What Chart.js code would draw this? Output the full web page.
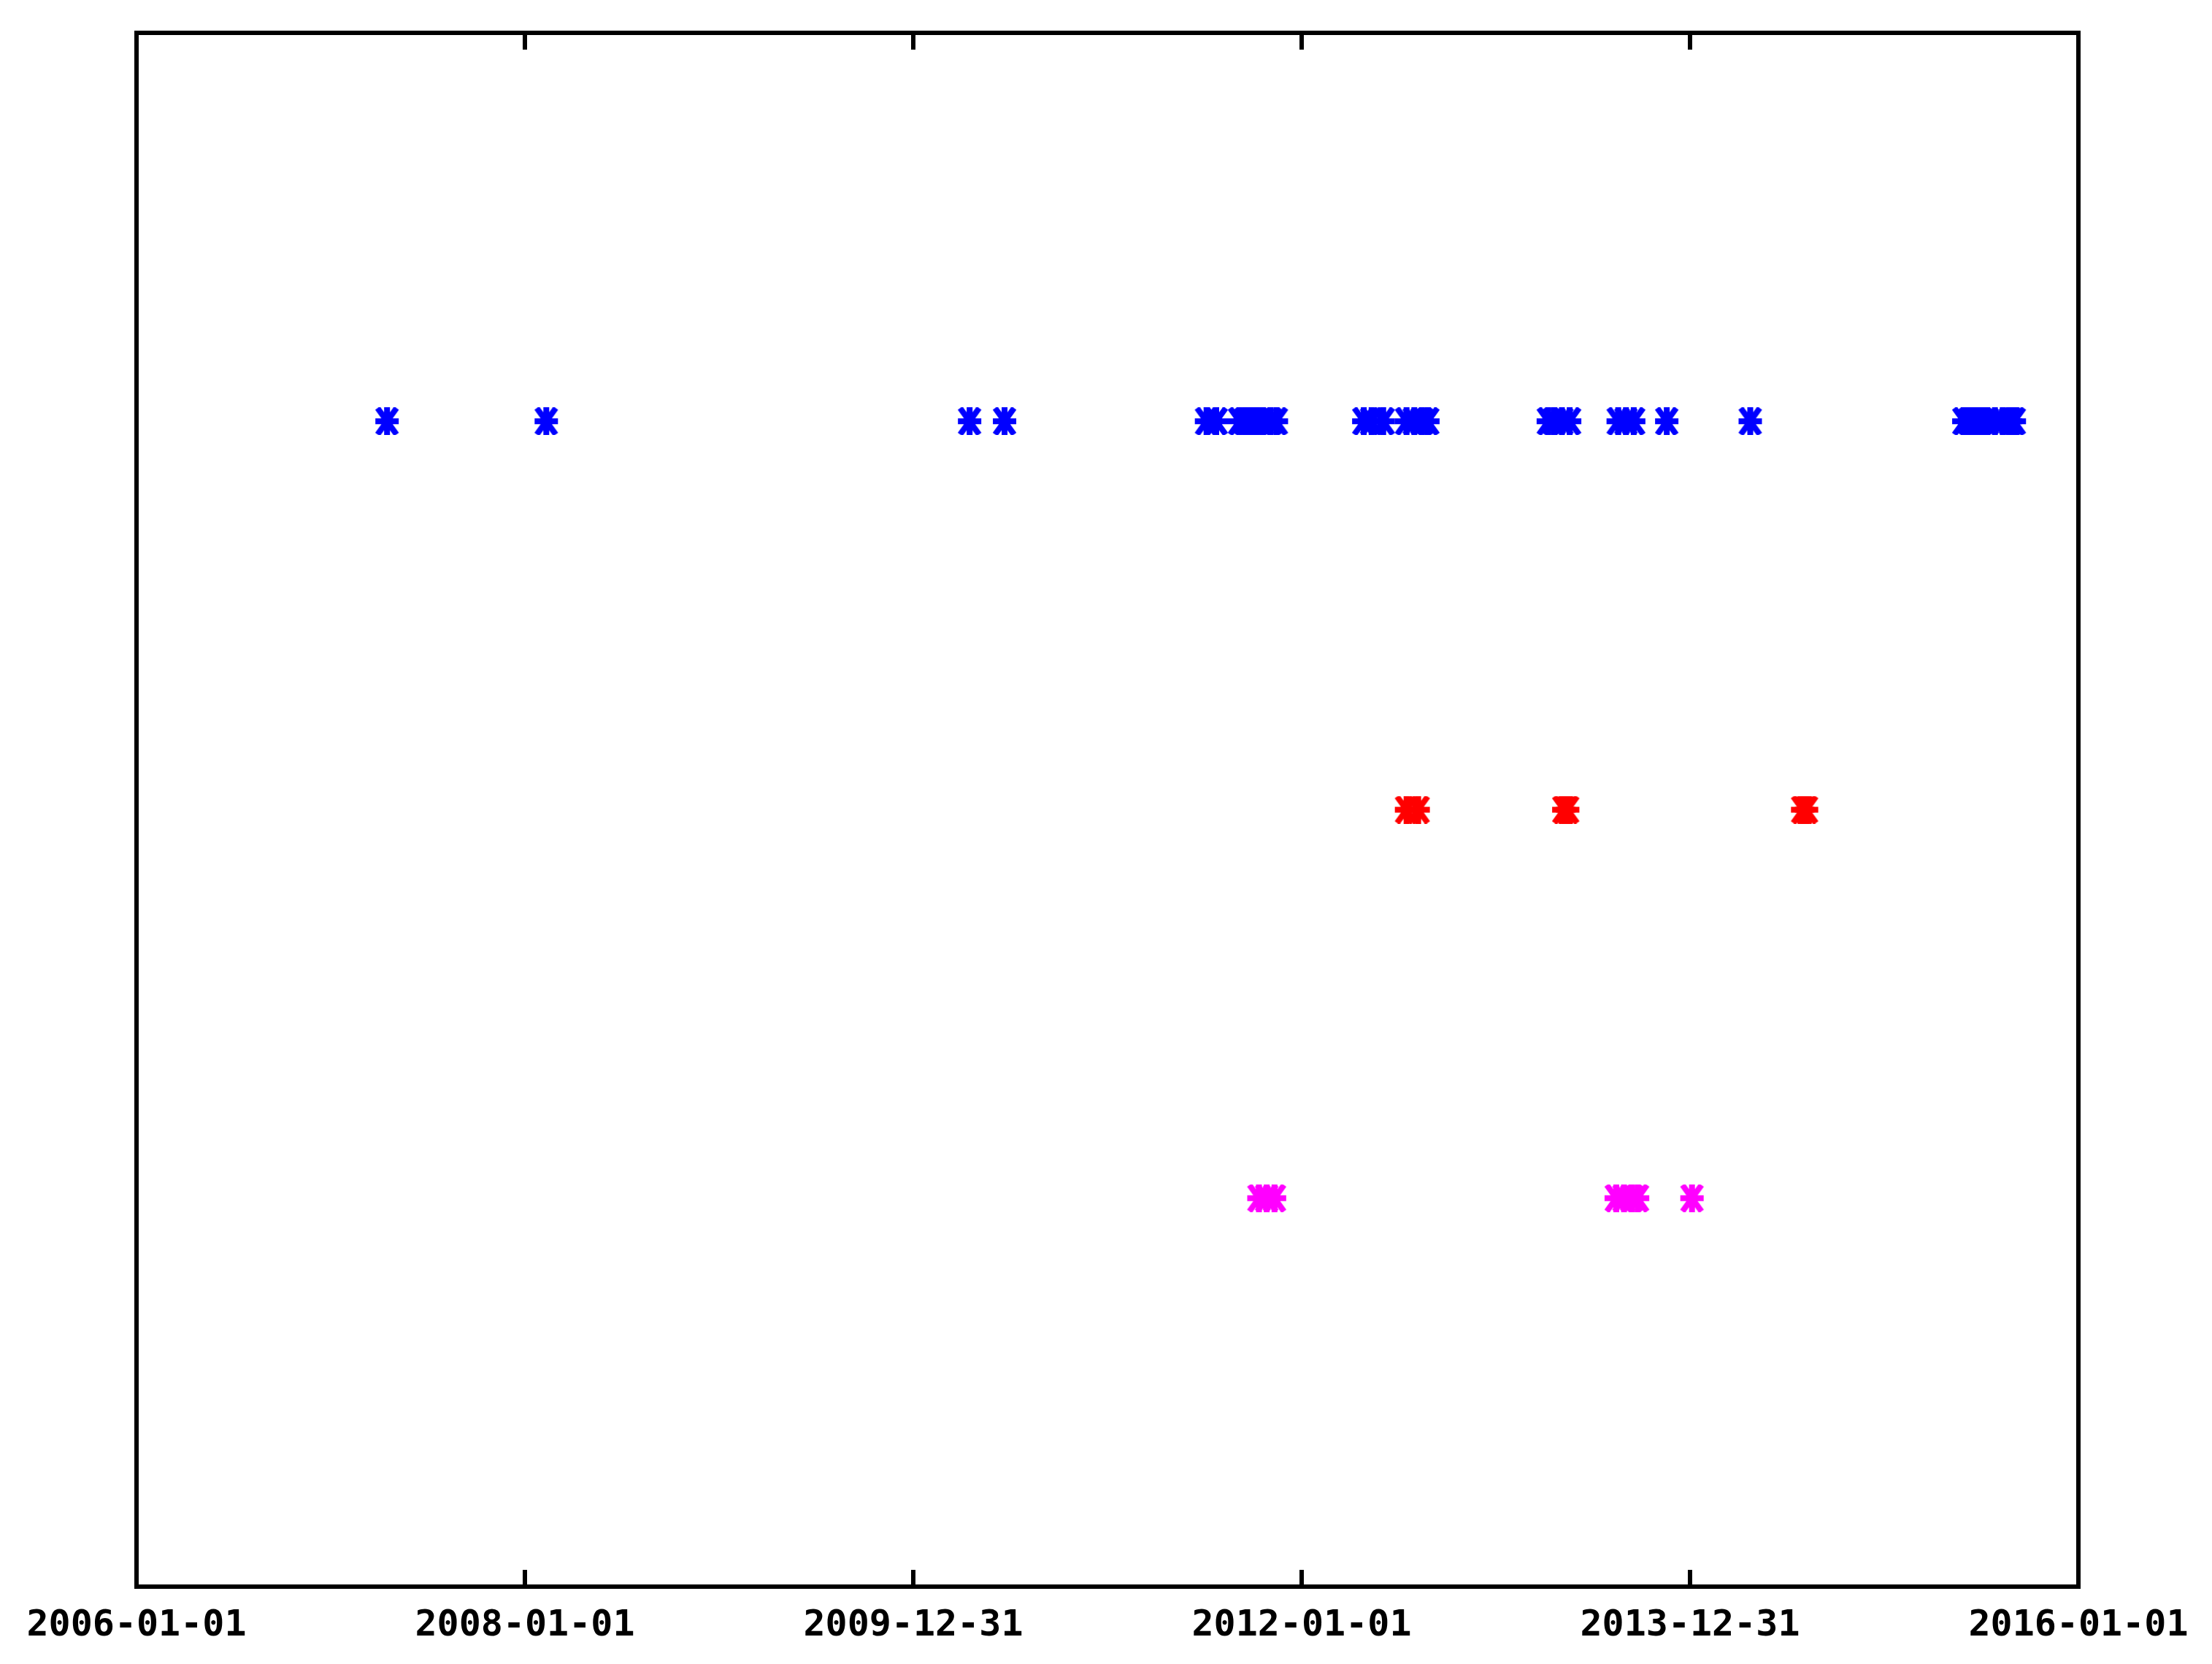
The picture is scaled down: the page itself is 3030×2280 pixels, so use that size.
<!DOCTYPE html>
<html>
<head>
<meta charset="utf-8">
<script src="https://cdn.jsdelivr.net/npm/chart.js@4/dist/chart.umd.min.js"></script>
<style>
  html, body { margin: 0; padding: 0; background: #fff; }
  canvas { display: block; }
</style>
</head>
<body>
<canvas id="chart" width="3030" height="2280"></canvas>
<script>
// 軸與刻度
const xMin = 2006, xMax = 2016, xStep = 2;
const tickLabels = ['2006-01-01', '2008-01-01', '2009-12-31', '2012-01-01', '2013-12-31', '2016-01-01'];

// 事件時間（年份小數），三列
const blueDates = [2007.29, 2008.11, 2010.29, 2010.47,
  2011.51, 2011.56, 2011.68, 2011.71, 2011.74, 2011.77, 2011.80, 2011.84, 2011.87,
  2012.32, 2012.36, 2012.42, 2012.54, 2012.58, 2012.62, 2012.65,
  2013.27, 2013.30, 2013.34, 2013.38, 2013.63, 2013.67, 2013.71, 2013.88, 2014.31,
  2015.41, 2015.44, 2015.47, 2015.50, 2015.53, 2015.57, 2015.61, 2015.65, 2015.67];
const redDates = [2012.54, 2012.60, 2013.35, 2013.37, 2014.58, 2014.60];
const magentaDates = [2011.78, 2011.82, 2011.86, 2013.62, 2013.66, 2013.70, 2013.73, 2014.01];
const rowLevels = [3, 2, 1];
const rowColors = ['#0000ff', '#ff0000', '#ff00ff'];

function toPoints(dates, level) {
  return dates.map(d => ({ x: d, y: level }));
}

// 星號標記（Ж 形），畫在小 canvas 上給 pointStyle 用
function makeMarker(color) {
  const c = document.createElement('canvas');
  c.width = 34;
  c.height = 38;
  const g = c.getContext('2d');
  g.strokeStyle = color;
  g.lineWidth = 8;
  g.beginPath();
  g.moveTo(17, 0); g.lineTo(17, 38);
  g.moveTo(1, 19); g.lineTo(33, 19);
  g.moveTo(4, 1); g.lineTo(30, 37);
  g.moveTo(30, 1); g.lineTo(4, 37);
  g.stroke();
  return c;
}

// 外框與內向刻度線
const framePlugin = {
  id: 'frame',
  afterDatasetsDraw(chart) {
    const { ctx, chartArea: a, scales: { x } } = chart;
    ctx.save();
    ctx.strokeStyle = '#000';
    ctx.lineWidth = 6;
    ctx.strokeRect(a.left, a.top, a.right - a.left, a.bottom - a.top);
    x.ticks.forEach(t => {
      const px = x.getPixelForValue(t.value);
      if (px <= a.left + 1 || px >= a.right - 1) return;
      ctx.beginPath();
      ctx.moveTo(px, a.bottom);
      ctx.lineTo(px, a.bottom - 23);
      ctx.moveTo(px, a.top);
      ctx.lineTo(px, a.top + 23);
      ctx.stroke();
    });
    ctx.restore();
  }
};

const datasets = [blueDates, redDates, magentaDates].map((dates, i) => ({
  data: toPoints(dates, rowLevels[i]),
  pointStyle: makeMarker(rowColors[i]),
  pointRadius: 18,
  borderColor: rowColors[i],
  backgroundColor: rowColors[i],
  showLine: false
}));

new Chart(document.getElementById('chart'), {
  type: 'scatter',
  data: { datasets },
  options: {
    responsive: false,
    animation: false,
    layout: { padding: { left: 187, right: 183, top: 45, bottom: 0 } },
    plugins: { legend: { display: false }, tooltip: { enabled: false } },
    scales: {
      x: {
        type: 'linear',
        min: xMin,
        max: xMax,
        grid: { display: false, drawTicks: false },
        border: { display: false },
        afterFit(scale) { scale.height = 106; },
        afterBuildTicks(scale) {
          scale.ticks = tickLabels.map((_, i) => ({ value: xMin + i * xStep }));
        },
        ticks: {
          autoSkip: false,
          maxRotation: 0,
          padding: 24,
          color: '#000',
          font: { family: 'DejaVu Sans Mono', size: 50, weight: 'bold' },
          callback: (v, i) => tickLabels[i]
        }
      },
      y: {
        display: false,
        min: 0,
        max: 4
      }
    }
  },
  plugins: [framePlugin]
});
</script>
</body>
</html>
